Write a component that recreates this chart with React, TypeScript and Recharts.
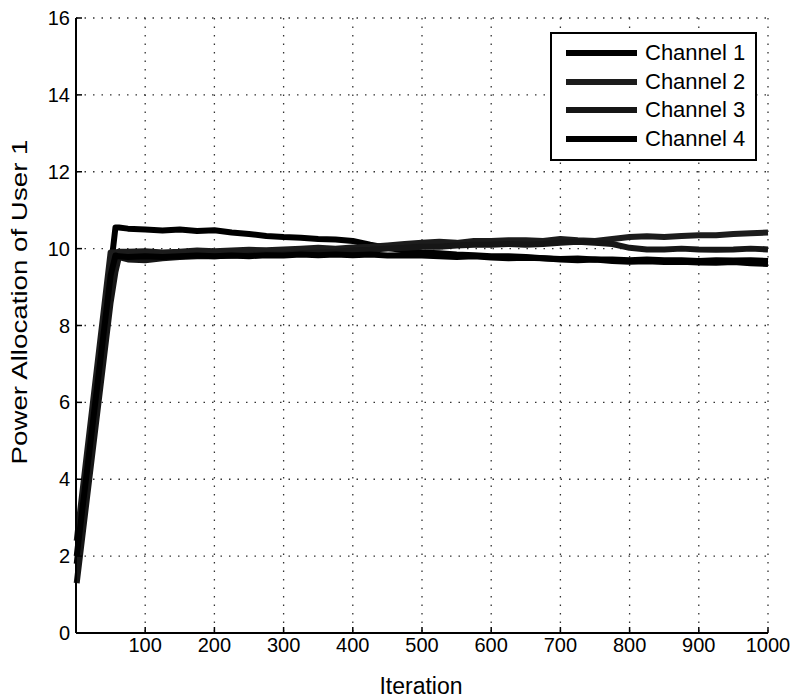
import React from 'react'
import { LineChart, Line, XAxis, YAxis, CartesianGrid, Label } from 'recharts'

const iterations = [
  1, 50, 57, 62, 75, 100, 125, 150, 175, 200, 225, 250, 275, 300, 325, 350, 375, 400, 425, 450, 475,
  500, 525, 550, 575, 600, 625, 650, 675, 700, 725, 750, 775, 800, 825, 850, 875, 900, 925, 950, 975, 1000,
]

const channel1 = [
  1.8, 9.45, 10.55, 10.55, 10.52, 10.5, 10.47, 10.5, 10.46, 10.48, 10.42, 10.38, 10.33, 10.3, 10.28, 10.25, 10.24, 10.2, 10.1, 10.02, 9.95,
  9.9, 9.88, 9.85, 9.83, 9.8, 9.8, 9.78, 9.75, 9.72, 9.7, 9.72, 9.68, 9.66, 9.67, 9.65, 9.66, 9.64, 9.63, 9.65, 9.62, 9.6,
]
const channel2 = [
  2.4, 9.9, 9.9, 9.92, 9.92, 9.93, 9.9, 9.92, 9.95, 9.93, 9.95, 9.97, 9.96, 9.98, 10.0, 10.02, 10.0, 10.03, 10.05, 10.08, 10.12,
  10.15, 10.18, 10.15, 10.2, 10.2, 10.22, 10.22, 10.2, 10.25, 10.22, 10.2, 10.25, 10.3, 10.32, 10.3, 10.33, 10.35, 10.35, 10.38, 10.4, 10.42,
]
const channel3 = [
  1.3, 8.6, 9.4, 9.78, 9.72, 9.7, 9.75, 9.78, 9.8, 9.8, 9.82, 9.83, 9.85, 9.85, 9.88, 9.9, 9.92, 9.95, 9.97, 10.0, 10.02,
  10.05, 10.05, 10.08, 10.1, 10.1, 10.12, 10.1, 10.12, 10.15, 10.18, 10.15, 10.12, 10.02, 9.98, 9.98, 10.0, 9.98, 9.97, 9.98, 10.0, 9.98,
]
const channel4 = [
  2.0, 9.3, 9.82, 9.8, 9.78, 9.8, 9.78, 9.8, 9.82, 9.8, 9.82, 9.8, 9.83, 9.82, 9.85, 9.83, 9.85, 9.83, 9.85, 9.82, 9.83,
  9.82, 9.8, 9.78, 9.8, 9.77, 9.75, 9.76, 9.75, 9.73, 9.74, 9.72, 9.72, 9.7, 9.72, 9.7, 9.7, 9.68, 9.7, 9.69, 9.7, 9.68,
]

const seriesNames = ['Channel 1', 'Channel 2', 'Channel 3', 'Channel 4']
const seriesColors = ['#000', '#1c1c1c', '#161616', '#000']
const xTicks = [100, 200, 300, 400, 500, 600, 700, 800, 900, 1000]
const yTicks = [0, 2, 4, 6, 8, 10, 12, 14, 16]

const FONT = '"Liberation Sans", Arial, Helvetica, sans-serif'

const rows = iterations.map((it, i) => ({
  iter: it,
  c1: channel1[i],
  c2: channel2[i],
  c3: channel3[i],
  c4: channel4[i],
}))
const keys = ['c1', 'c2', 'c3', 'c4']

function ChannelLegend() {
  return (
    <div
      style={{
        position: 'absolute',
        left: 550,
        top: 32,
        width: 203,
        height: 120,
        border: '2px solid #000',
        background: '#fff',
        fontFamily: FONT,
        fontSize: 22,
        color: '#000',
        paddingTop: 5,
        boxSizing: 'content-box',
      }}
    >
      {seriesNames.map((name, i) => (
        <div key={name} style={{ display: 'flex', alignItems: 'center', height: 28.5 }}>
          <div style={{ marginLeft: 14, width: 71, height: 6, background: seriesColors[i] }} />
          <span style={{ marginLeft: 8, whiteSpace: 'nowrap' }}>{name}</span>
        </div>
      ))}
    </div>
  )
}

export default function App() {
  return (
    <div style={{ position: 'absolute', left: 0, top: 0, width: 793, height: 700, background: '#fff' }}>
      <LineChart width={793} height={700} data={rows} margin={{ top: 18, right: 25, bottom: 0, left: 0 }}>
        <CartesianGrid stroke="#333" strokeDasharray="1.5 7" strokeWidth={1.3} />
        <XAxis
          dataKey="iter"
          type="number"
          domain={[0, 1000]}
          ticks={xTicks}
          height={67}
          axisLine={{ stroke: '#000', strokeWidth: 2 }}
          tickLine={{ stroke: '#000', strokeWidth: 1.5 }}
          tickSize={-6}
          tickMargin={11}
          tick={{ fill: '#000', fontSize: 20, fontFamily: FONT }}
        >
          <Label
            content={() => (
              <text x={421} y={686} textAnchor="middle" dominantBaseline="central" fontSize={23} fontFamily={FONT} fill="#000">
                Iteration
              </text>
            )}
          />
        </XAxis>
        <YAxis
          type="number"
          domain={[0, 16]}
          ticks={yTicks}
          width={76}
          axisLine={{ stroke: '#000', strokeWidth: 2 }}
          tickLine={{ stroke: '#000', strokeWidth: 1.5 }}
          tickSize={-6}
          tickMargin={12}
          tick={{ fill: '#000', fontSize: 20, fontFamily: FONT }}
        >
          <Label
            content={() => (
              <text
                x={19}
                y={302}
                transform="rotate(-90 19 302)"
                textAnchor="middle"
                dominantBaseline="central"
                fontSize={22}
                fontFamily={FONT}
                fill="#000"
                textLength={325}
                lengthAdjust="spacingAndGlyphs"
              >
                Power Allocation of User 1
              </text>
            )}
          />
        </YAxis>
        {keys.map((k, i) => (
          <Line
            key={k}
            dataKey={k}
            name={seriesNames[i]}
            type="linear"
            stroke={seriesColors[i]}
            strokeWidth={6}
            strokeLinejoin="round"
            dot={false}
            isAnimationActive={false}
          />
        ))}
      </LineChart>
      <ChannelLegend />
    </div>
  )
}
